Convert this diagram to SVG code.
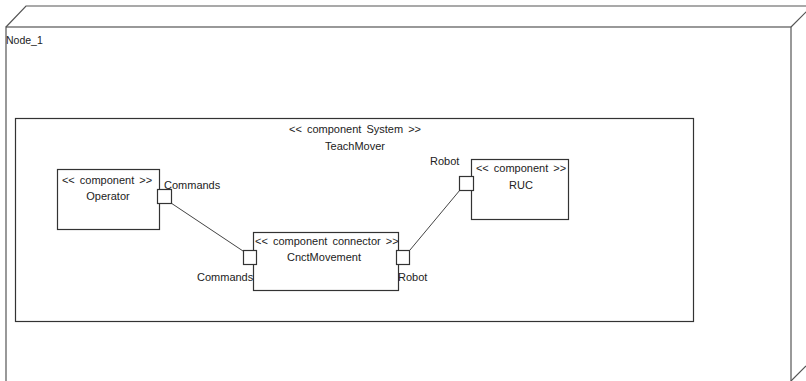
<svg xmlns="http://www.w3.org/2000/svg" width="806" height="381" viewBox="0 0 806 381">
<style>
text{font-family:"Liberation Sans",Arial,sans-serif;font-size:11px;fill:#222}
.st{word-spacing:2px}
.box{fill:#fff;stroke:#333;stroke-width:1.2}
.port{fill:#fff;stroke:#333;stroke-width:1.2}
.node{fill:none;stroke:#555;stroke-width:1.2}
.conn{stroke:#444;stroke-width:1;fill:none}
.c{text-anchor:middle}
</style>
<rect width="806" height="381" fill="#fff"/>
<g id="Node_1">
<path class="node" d="M6,27 L26,6 L812,6 M791,27 L811,7 M791,381 L806,366"/>
<rect class="node" x="6" y="27" width="785" height="360"/>
<text x="6" y="44" style="font-size:10.5px">Node_1</text>
</g>
<g id="TeachMover">
<rect class="box" x="15.5" y="118.5" width="678" height="203"/>
<text class="c st" x="355" y="133">&lt;&lt; component System &gt;&gt;</text>
<text class="c" x="355" y="150">TeachMover</text>
</g>
<g id="Operator">
<rect class="box" x="57.5" y="169.5" width="102" height="60"/>
<text class="c st" x="107" y="184">&lt;&lt; component &gt;&gt;</text>
<text class="c" x="108" y="200">Operator</text>
</g>
<g id="CnctMovement">
<rect class="box" x="253.5" y="232.5" width="145" height="58"/>
<text class="st" x="255" y="245">&lt;&lt; component connector &gt;&gt;</text>
<text class="c" x="324" y="261">CnctMovement</text>
</g>
<g id="RUC">
<rect class="box" x="471.5" y="159.5" width="97" height="60"/>
<text class="c st" x="521" y="172">&lt;&lt; component &gt;&gt;</text>
<text class="c" x="521" y="189">RUC</text>
</g>
<g id="connectors">
<line class="conn" x1="171" y1="203" x2="243" y2="251"/>
<line class="conn" x1="410" y1="250" x2="460" y2="190"/>
</g>
<g id="ports">
<g id="Operator_Commands">
<rect class="port" x="157.5" y="189.5" width="14" height="14"/>
<text x="164" y="189">Commands</text>
</g>
<g id="CnctMovement_Commands">
<rect class="port" x="243.5" y="250.5" width="13" height="14"/>
<text x="197" y="281">Commands</text>
</g>
<g id="CnctMovement_Robot">
<rect class="port" x="396.5" y="250.5" width="13" height="14"/>
<text x="398" y="281">Robot</text>
</g>
<g id="RUC_Robot">
<rect class="port" x="459.5" y="176.5" width="14" height="14"/>
<text x="430" y="165">Robot</text>
</g>
</g>
</svg>
